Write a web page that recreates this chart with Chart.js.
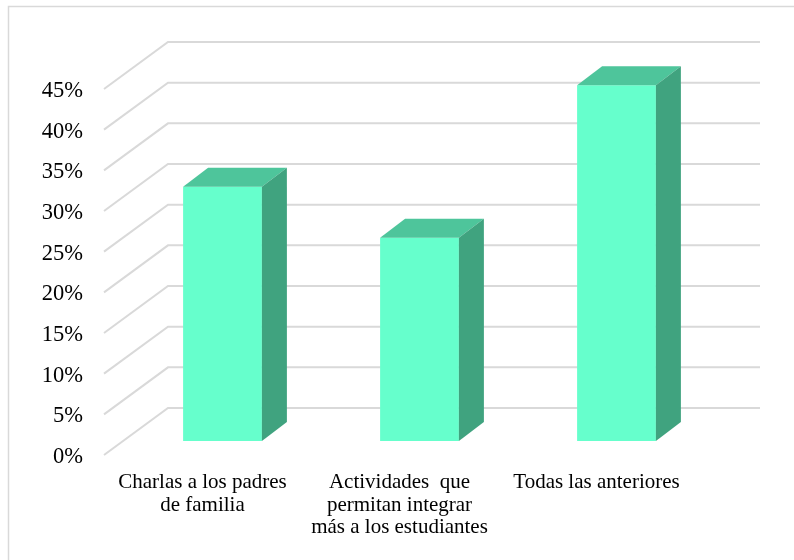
<!DOCTYPE html>
<html lang="es">
<head>
  <meta charset="UTF-8" />
  <title>Gráfico de barras</title>
  <script src="https://cdn.jsdelivr.net/npm/chart.js"></script>
  <style>
    html, body { margin: 0; padding: 0; background: #fff; }
    #wrap { width: 794px; height: 560px; position: relative; }
  </style>
</head>
<body>
  <div id="wrap"><canvas id="chart"></canvas></div>
  <script>
    const categories = [
      ['Charlas a los padres', 'de familia'],
      ['Actividades  que', 'permitan integrar', 'más a los estudiantes'],
      ['Todas las anteriores']
    ];
    const values = [31.25, 25, 43.75];
    const yTicks = [0, 5, 10, 15, 20, 25, 30, 35, 40, 45];

    const FRONT = '#66FFCC';
    const TOP = '#4EC59B';
    const SIDE = '#40A37F';
    const GRID = '#d9d9d9';
    const FONT = "'Liberation Serif', 'Times New Roman', serif";

    // fake 3d: back wall grid + top/side faces of the bars
    const fake3d = {
      id: 'fake3d',
      beforeDraw(chart) {
        const ctx = chart.ctx;
        ctx.save();
        ctx.fillStyle = '#fff';
        ctx.fillRect(0, 0, chart.width, chart.height);
        ctx.strokeStyle = GRID;
        ctx.lineWidth = 1.5;
        ctx.beginPath();
        ctx.moveTo(8.5, chart.height + 2);
        ctx.lineTo(8.5, 6.5);
        ctx.lineTo(chart.width + 2, 6.5);
        ctx.stroke();
        ctx.restore();
      },
      beforeDatasetsDraw(chart) {
        const ctx = chart.ctx;
        const y = chart.scales.y;
        const area = chart.chartArea;
        ctx.save();
        ctx.strokeStyle = GRID;
        ctx.lineWidth = 2;
        yTicks.forEach(v => {
          const yb = y.getPixelForValue(v) - 33;
          ctx.beginPath();
          ctx.moveTo(area.left - 20, yb + 47);
          ctx.lineTo(area.left + 44, yb);
          ctx.lineTo(area.right + 45, yb);
          ctx.stroke();
        });
        ctx.restore();
      },
      afterDatasetsDraw(chart) {
        const ctx = chart.ctx;
        const dx = 25, dy = 19;
        ctx.save();
        chart.getDatasetMeta(0).data.forEach(bar => {
          const l = bar.x - bar.width / 2, r = bar.x + bar.width / 2;
          const t = bar.y, b = bar.base;
          ctx.fillStyle = TOP;
          ctx.beginPath();
          ctx.moveTo(l, t);
          ctx.lineTo(l + dx, t - dy);
          ctx.lineTo(r + dx, t - dy);
          ctx.lineTo(r, t);
          ctx.closePath();
          ctx.fill();
          ctx.fillStyle = SIDE;
          ctx.beginPath();
          ctx.moveTo(r, t);
          ctx.lineTo(r + dx, t - dy);
          ctx.lineTo(r + dx, b - dy);
          ctx.lineTo(r, b);
          ctx.closePath();
          ctx.fill();
        });
        ctx.restore();
      }
    };

    new Chart(document.getElementById('chart'), {
      type: 'bar',
      data: {
        labels: categories,
        datasets: [{
          data: values,
          backgroundColor: FRONT,
          borderWidth: 0,
          barPercentage: 0.4,
          categoryPercentage: 1
        }]
      },
      options: {
        responsive: true,
        maintainAspectRatio: false,
        animation: false,
        layout: { padding: { top: 75, left: 0, right: 79, bottom: 0 } },
        plugins: {
          legend: { display: false },
          tooltip: { enabled: false }
        },
        scales: {
          x: {
            grid: { display: false, drawTicks: false },
            border: { display: false },
            ticks: {
              color: '#000',
              font: { family: FONT, size: 21, lineHeight: 1.08 },
              padding: 30,
              labelOffset: -20,
              maxRotation: 0,
              autoSkip: false
            },
            afterFit: s => { s.height = 119; }
          },
          y: {
            min: 0,
            max: 45,
            grid: { display: false, drawTicks: false },
            border: { display: false },
            ticks: {
              stepSize: 5,
              color: '#000',
              font: { family: FONT, size: 22.5 },
              padding: 41,
              labelOffset: 16,
              callback: v => v + '%'
            },
            afterFit: s => { s.width = 124; }
          }
        }
      },
      plugins: [fake3d]
    });
  </script>
</body>
</html>
